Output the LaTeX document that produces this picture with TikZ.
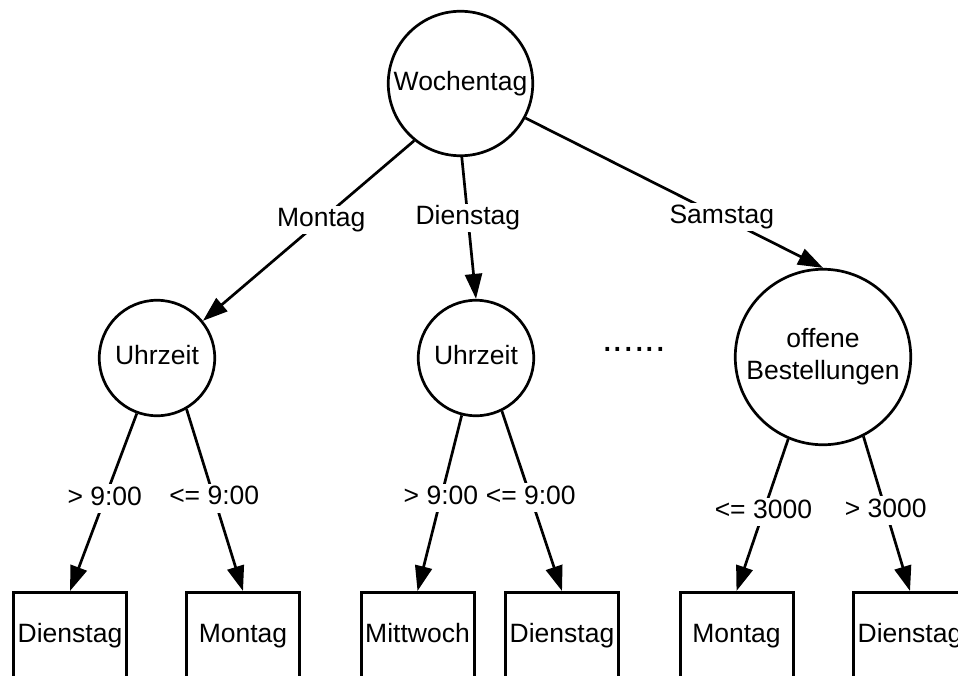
\documentclass[tikz,border=0pt]{standalone}
\usepackage{fontspec}
\setmainfont{Liberation Sans}
\usetikzlibrary{arrows.meta}
\begin{document}
\begin{tikzpicture}[x=1pt,y=-1pt,
  every node/.style={font=\fontsize{26.5}{32}\selectfont},
  circ/.style={draw, circle, line width=2.7pt, inner sep=0pt, text height=19pt, text depth=5.7pt},
  bigcirc/.style={draw, circle, line width=2.7pt, inner sep=0pt, align=center},
  leaf/.style={draw, line width=3pt, minimum width=113pt, minimum height=100pt, inner sep=0pt, text height=19pt, text depth=20pt, anchor=north},
  conn/.style={line width=2.7pt, -{Triangle[length=25pt,width=17pt]}},
  lbl/.style={fill=white, inner sep=2pt, text height=19pt, text depth=5.7pt}]
\useasboundingbox (0,0) rectangle (958,675);

\node[circ, minimum size=144.5pt] (w) at (460.5,83.5) {Wochentag};
\node[circ, minimum size=115.5pt] (u1) at (157,358) {Uhrzeit};
\node[circ, minimum size=115.5pt] (u2) at (476,358) {Uhrzeit};
\node[bigcirc, minimum size=175.5pt] (ob) at (823,357) {offene\\Bestellungen};
\node[font=\fontsize{38}{38}\selectfont, inner sep=0pt] (dots) at (634,349) {......};

\node[leaf] (b1) at (70,591) {Dienstag};
\node[leaf] (b2) at (243,591) {Montag};
\node[leaf] (b3) at (417.5,591) {Mittwoch};
\node[leaf] (b4) at (562,591) {Dienstag};
\node[leaf] (b5) at (736.5,591) {Montag};
\node[leaf] (b6) at (910,591) {Dienstag};

\draw[conn] (w.231.6) -- node[lbl,pos=0.44]{Montag} (u1.39);
\draw[conn] (w.271) -- node[lbl,pos=0.43]{Dienstag} (u2.north);
\draw[conn] (w.332) -- node[lbl,pos=0.66]{Samstag} (ob.north);

\draw[conn] (u1.250.7) -- node[lbl,pos=0.48]{> 9:00} (b1.north);
\draw[conn] (u1.300) -- node[lbl,pos=0.49]{<= 9:00} (b2.north);
\draw[conn] (u2.256) -- node[lbl,pos=0.47]{> 9:00} (b3.north);
\draw[conn] (u2.296) -- node[lbl,pos=0.48]{<= 9:00} (b4.north);
\draw[conn] (ob.247) -- node[lbl,pos=0.48]{<= 3000} (b5.north);
\draw[conn] (ob.297) -- node[lbl,pos=0.48]{> 3000} (b6.north);
\end{tikzpicture}
\end{document}
